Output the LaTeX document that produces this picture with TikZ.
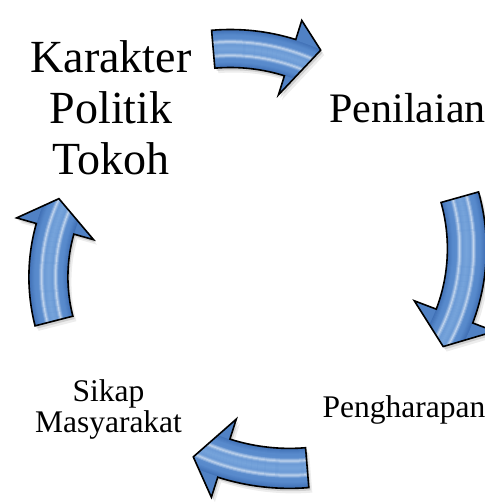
\documentclass[tikz,border=0pt]{standalone}
\usepackage{fontspec}
\setmainfont{Liberation Serif}

\definecolor{arrowmid}{RGB}{88,138,204}
\definecolor{arrowdark}{RGB}{46,92,164}
\definecolor{arrowlight}{RGB}{150,190,234}

\tikzset{
  label text/.style={inner sep=0pt, anchor=base, text=black},
  big label/.style={label text, font=\fontsize{46}{52}\selectfont},
  mid label/.style={label text, font=\fontsize{42}{50}\selectfont},
  small label/.style={label text, font=\fontsize{31.5}{32}\selectfont},
  arrow outline/.style={draw=black, line width=1.6pt, line join=miter},
  arrow shadow/.style={fill=black, fill opacity=#1},
}

% Curved block arrow following a circular arc (clockwise).
% #1,#2 centre of the arc, #3 radius of the shaft centre line,
% #4 half width of the shaft, #5 half width of the head,
% #6 tail angle, #7 angle of the head base, #8 tip angle, #9 tip radius
\newcommand{\curvedblockarrow}[9]{%
  \begin{scope}[shift={(#1,#2)}]
    \def\arrowpath{({#6}:{#3+#4}) arc[start angle={#6}, end angle={#7}, radius={#3+#4}]
      -- ({#7}:{#3+#5}) -- ({#8}:{#9}) -- ({#7}:{#3-#5}) -- ({#7}:{#3-#4})
      arc[start angle={#7}, end angle={#6}, radius={#3-#4}] -- cycle}%
    % soft drop shadow
    \path[arrow shadow=0.07, shift={(3.5,-5)}] \arrowpath;
    \path[arrow shadow=0.12, shift={(1.8,-2.8)}] \arrowpath;
    % glossy body: concentric bands along the arc
    \fill[arrowmid] \arrowpath;
    \begin{scope}
      \clip \arrowpath;
      \foreach \k in {-48,-47,...,48}{%
        \pgfmathsetmacro\arT{abs(\k)/#4}%
        \pgfmathsetmacro\arL{max(0,1-\arT/0.6)*50}%
        \pgfmathsetmacro\arW{100-max(0,1-abs(\arT-0.36)/0.14)*60}%
        \pgfmathsetmacro\arD{100-((\arT<1)*max(0,(\arT-0.7)/0.3)*60+(1-(\arT<1))*20)}%
        \draw[line width=1.3pt, color=arrowlight!\arL!arrowmid!\arD!arrowdark!\arW!white]
          ({#6+3}:{#3+\k}) arc[start angle={#6+3}, end angle={#8-3}, radius={#3+\k}];
      }
    \end{scope}
    \path[arrow outline] \arrowpath;
  \end{scope}}

\begin{document}
\begin{tikzpicture}[x=1pt, y=1pt]
  \useasboundingbox[fill=white] (0,0) rectangle (485,504);

  % cycle arrows
  \curvedblockarrow{230.3}{255.5}{200}{19}{39}{94.9}{72.6}{65.5}{218}
  \curvedblockarrow{276.9}{255.4}{190}{19.5}{43}{15.7}{-20.8}{-30.5}{193}
  \curvedblockarrow{289.5}{251.6}{216}{20}{41}{-85.3}{-107.7}{-115.2}{226}
  \curvedblockarrow{225.4}{227}{177}{19.5}{40}{194.4}{164.2}{154.8}{184}

  % stage labels
  \node[big label] (karakter1) at (111,431) {Karakter};
  \node[big label] (karakter2) at (111,380) {Politik};
  \node[big label] (karakter3) at (111,329) {Tokoh};
  \node[mid label] (penilaian) at (407.5,381) {Penilaian};
  \node[small label] (pengharapan) at (404,86) {Pengharapan};
  \node[small label] (sikap1) at (108.5,102) {Sikap};
  \node[small label] (sikap2) at (108.5,71) {Masyarakat};
\end{tikzpicture}
\end{document}
